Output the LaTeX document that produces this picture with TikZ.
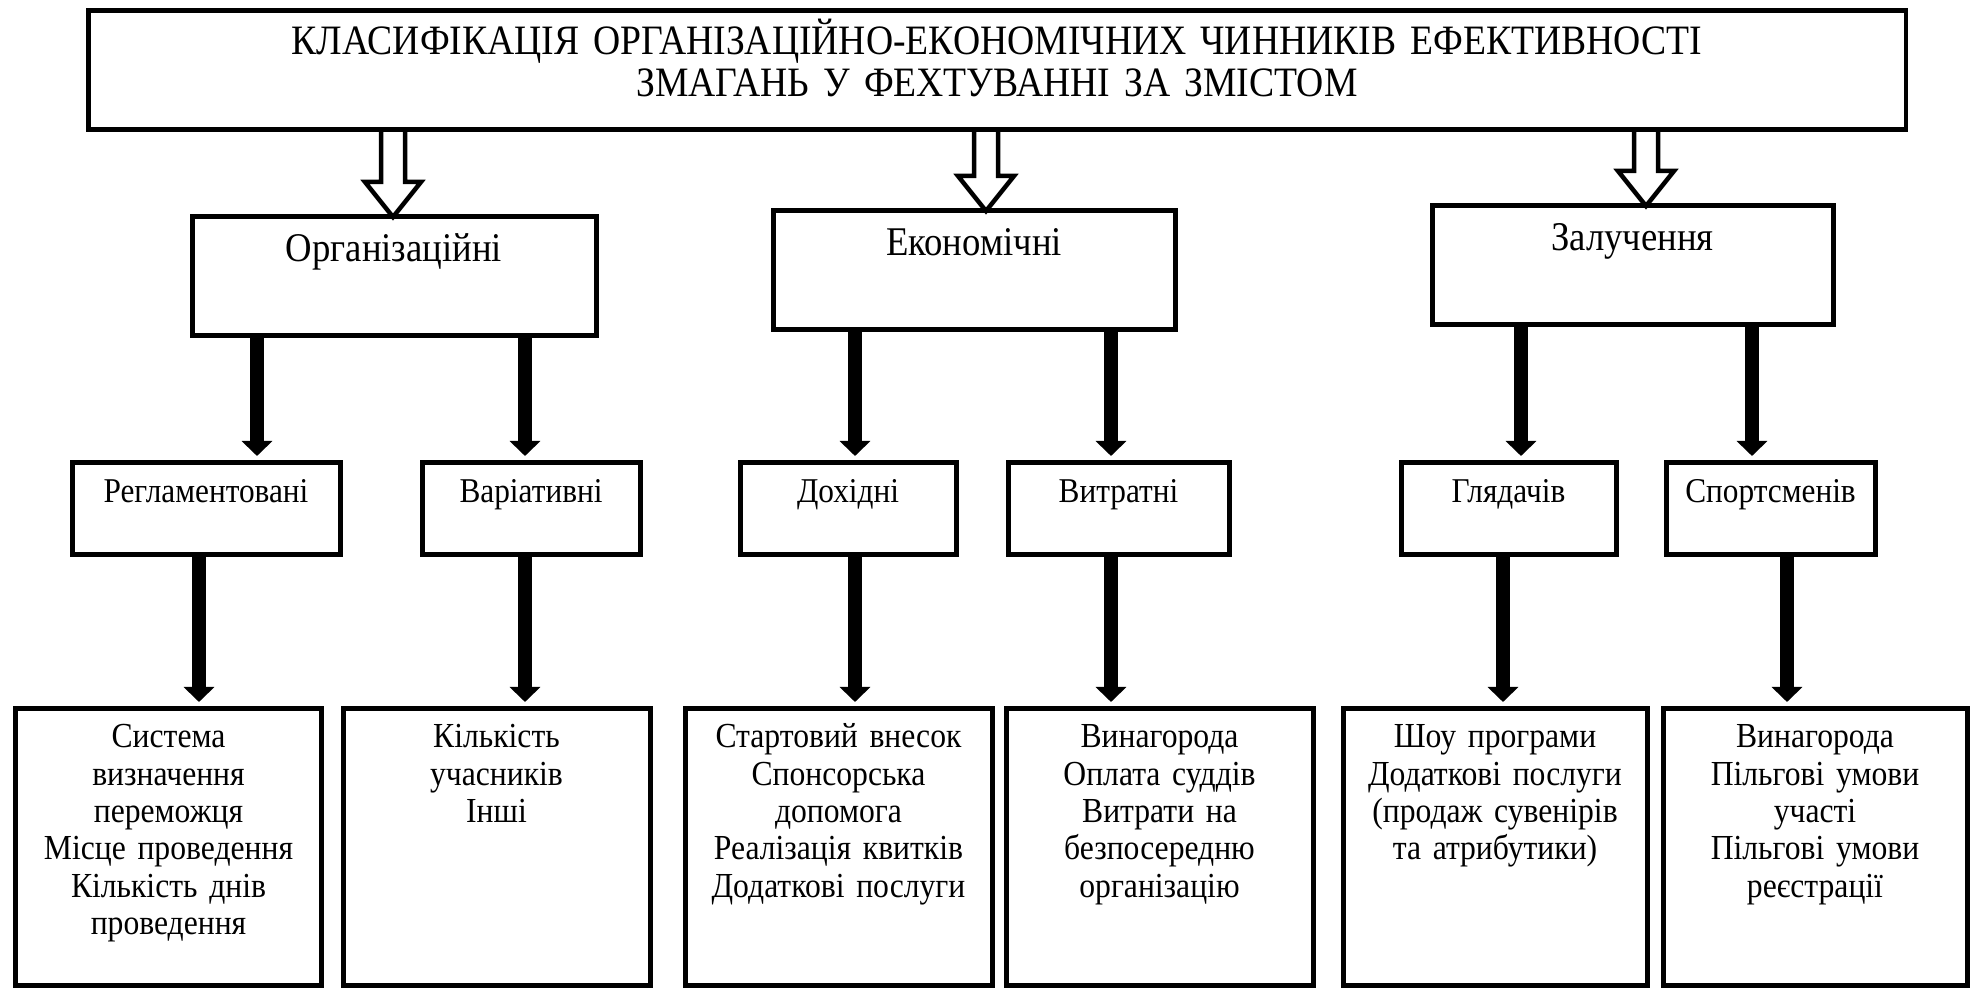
\documentclass[tikz,border=0pt]{standalone}
\usepackage{fontspec}
\setmainfont{Liberation Serif}
\newfontfamily\tallserif[FakeStretch=0.9]{Liberation Serif}
\usetikzlibrary{arrows.meta,calc}

\tikzset{
	box/.style={draw, line width=0.5mm, inner sep=0pt, outer sep=0pt, anchor=north west, align=center},
	headbox/.style={box, text width=181.8mm, text height=4.4mm, text depth=7.5mm, font=\tallserif\fontsize{11.9}{11.9}\selectfont},
	groupbox/.style={box, text width=#1, text height=4.5mm, text depth=7.4mm, font=\tallserif\fontsize{11.6}{12.6}\selectfont},
	kindbox/.style={box, text width=#1, text height=4.0mm, text depth=5.2mm, font=\tallserif\fontsize{9.9}{10.8}\selectfont},
	listbox/.style={box, text width=#1, text height=3.9mm, text depth=23.8mm, font=\tallserif\fontsize{10}{10.6}\selectfont},
	fatarrow/.style={line width=1.4mm, -{Triangle[width=3mm,length=1.5mm]}, shorten >=0.7mm},
	hollow/.style={line width=0.45mm}
}
\newcommand\hollowarrow[2]{\draw[hollow] let \p1=(#1), \p2=(#2) in
	(\x1-1.2mm,\y1) -- (\x1-1.2mm,\y2+3.5mm) -- (\x1-2.8mm,\y2+3.5mm) -- (\x2,\y2)
	-- (\x1+2.8mm,\y2+3.5mm) -- (\x1+1.2mm,\y2+3.5mm) -- (\x1+1.2mm,\y1);}

\begin{document}
\begin{tikzpicture}[x=0.1mm, y=0.1mm]
	%%%%% START %%%%%
	\useasboundingbox (0,0) rectangle (1975,-990);
	
	\node[headbox] (head) at (88,-11) {КЛАСИФІКАЦІЯ ОРГАНІЗАЦІЙНО-ЕКОНОМІЧНИХ ЧИННИКІВ ЕФЕКТИВНОСТІ\\ЗМАГАНЬ У ФЕХТУВАННІ ЗА ЗМІСТОМ};
	
	\node[groupbox=40.4mm] (org) at (192,-217) {Організаційні};
	\node[groupbox=40.2mm] (econ) at (773,-211) {Економічні};
	\node[groupbox=40.1mm] (zal) at (1432,-206) {Залучення};
	
	\hollowarrow{head.south -| 393,0}{org.north -| 393,0}
	\hollowarrow{head.south -| 986,0}{econ.north -| 986,0}
	\hollowarrow{head.south -| 1646,0}{zal.north -| 1646,0}
	
	\node[kindbox=26.8mm] (regl) at (72,-463) {Регламентовані};
	\node[kindbox=21.8mm] (var) at (422,-463) {Варіативні};
	\node[kindbox=21.6mm] (doh) at (740,-463) {Дохідні};
	\node[kindbox=22.1mm] (vytr) at (1008,-463) {Витратні};
	\node[kindbox=21.5mm] (glyad) at (1401,-463) {Глядачів};
	\node[kindbox=20.9mm] (sport) at (1666,-463) {Спортсменів};
	
	\draw[fatarrow] (org.south -| 257,0) -- (regl.north -| 257,0);
	\draw[fatarrow] (org.south -| 525,0) -- (var.north -| 525,0);
	\draw[fatarrow] (econ.south -| 855,0) -- (doh.north -| 855,0);
	\draw[fatarrow] (econ.south -| 1111,0) -- (vytr.north -| 1111,0);
	\draw[fatarrow] (zal.south -| 1521,0) -- (glyad.north -| 1521,0);
	\draw[fatarrow] (zal.south -| 1752,0) -- (sport.north -| 1752,0);
	
	\node[listbox=30.7mm] (l1) at (15,-709) {Система\\визначення\\переможця\\Місце проведення\\Кількість днів\\проведення};
	\node[listbox=30.7mm] (l2) at (343,-709) {Кількість\\учасників\\Інші};
	\node[listbox=30.7mm] (l3) at (685,-709) {Стартовий внесок\\Спонсорська\\допомога\\Реалізація квитків\\Додаткові послуги};
	\node[listbox=30.7mm] (l4) at (1006,-709) {Винагорода\\Оплата суддів\\Витрати на\\безпосередню\\організацію};
	\node[listbox=30.4mm] (l5) at (1343,-709) {Шоу програми\\Додаткові послуги\\(продаж сувенірів\\та атрибутики)};
	\node[listbox=30.4mm] (l6) at (1663,-709) {Винагорода\\Пільгові умови\\участі\\Пільгові умови\\реєстрації};
	
	\draw[fatarrow] (regl.south -| 199,0) -- (l1.north -| 199,0);
	\draw[fatarrow] (var.south -| 525,0) -- (l2.north -| 525,0);
	\draw[fatarrow] (doh.south -| 855,0) -- (l3.north -| 855,0);
	\draw[fatarrow] (vytr.south -| 1111,0) -- (l4.north -| 1111,0);
	\draw[fatarrow] (glyad.south -| 1503,0) -- (l5.north -| 1503,0);
	\draw[fatarrow] (sport.south -| 1787,0) -- (l6.north -| 1787,0);
	%%%%% END %%%%%
\end{tikzpicture}
\end{document}
